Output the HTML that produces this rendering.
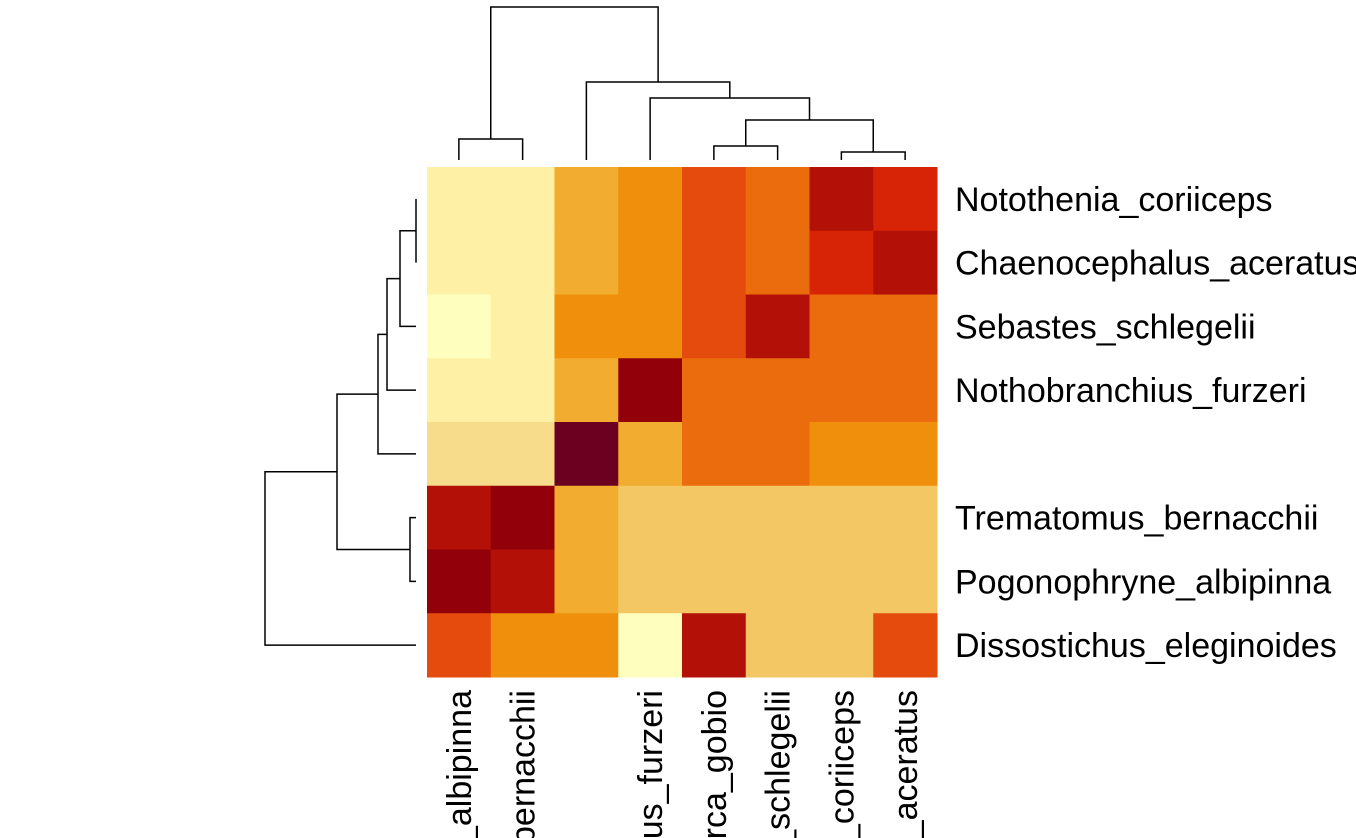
<!DOCTYPE html>
<html><head><meta charset="utf-8"><style>
html,body{margin:0;padding:0;background:#fff;overflow:hidden}
svg{display:block}
text{font-family:"Liberation Sans",Arial,sans-serif;font-size:34px;fill:#000}
</style></head><body>
<svg id="chart" width="1356" height="838" viewBox="0 0 1356 838" xmlns="http://www.w3.org/2000/svg">
<g id="cells"></g>
<g id="rowlabels"></g>
<g id="collabels"></g>
<g id="rowdendro" stroke="#000" stroke-width="1.5" fill="none"></g>
<g id="coldendro" stroke="#000" stroke-width="1.5" fill="none"></g>
</svg>
<script>
const rowNames = ["Notothenia_coriiceps","Chaenocephalus_aceratus","Sebastes_schlegelii","Nothobranchius_furzeri","","Trematomus_bernacchii","Pogonophryne_albipinna","Dissostichus_eleginoides"];
const colNames = ["Pogonophryne_albipinna","Trematomus_bernacchii","","Nothobranchius_furzeri","Perca_gobio","Sebastes_schlegelii","Notothenia_coriiceps","Chaenocephalus_aceratus"];
const values = [
 [2,2,5,6,8,7,10,9],
 [2,2,5,6,8,7,9,10],
 [1,2,6,6,8,10,7,7],
 [2,2,5,11,7,7,7,7],
 [3,3,12,5,7,7,6,6],
 [10,11,5,4,4,4,4,4],
 [11,10,5,4,4,4,4,4],
 [8,6,6,1,10,4,4,8]
];
const palette = ["#FFFFFF","#FEFEBE","#FEF1A6","#F7DC8B","#F3C764","#F2AC30","#EF8F0C","#EB6C0C","#E44B0C","#D82406","#B31107","#920009","#6B0020"];
// dendrogram merges: [left, right, height]; leaves are 0..7, merged clusters 8..
const rowMerges = [[0,1,416],[8,2,400],[9,3,387],[10,4,378],[5,6,410],[11,12,337],[13,7,265]];
const colMerges = [[0,1,139],[4,5,146],[6,7,152],[9,10,120],[3,11,98],[2,12,82],[8,13,7]];

const NS="http://www.w3.org/2000/svg";
const x0=427,y0=167,W=510,H=510;
const cw=W/colNames.length, ch=H/rowNames.length;
const xc=i=>x0+cw*(i+0.5), yc=i=>y0+ch*(i+0.5);
const cells=document.getElementById('cells');
values.forEach((row,r)=>row.forEach((v,c)=>{
  const e=document.createElementNS(NS,'rect');
  e.setAttribute('x',x0+c*cw);e.setAttribute('y',y0+r*ch);
  e.setAttribute('width',cw+0.5);e.setAttribute('height',ch+0.5);
  e.setAttribute('fill',palette[v]);
  
  
  cells.appendChild(e);
}));
const rl=document.getElementById('rowlabels');
rowNames.forEach((n,r)=>{
  const t=document.createElementNS(NS,'text');
  t.setAttribute('x',955);t.setAttribute('y',yc(r)+12);
  t.textContent=n;
  
  
  rl.appendChild(t);
});
const cl=document.getElementById('collabels');
colNames.forEach((n,c)=>{
  const t=document.createElementNS(NS,'text');
  const x=xc(c)+12,y=690;
  t.setAttribute('x',x);t.setAttribute('y',y);
  t.setAttribute('text-anchor','end');
  t.setAttribute('transform','rotate(-90 '+x+' '+y+')');
  t.textContent=n;
  
  
  cl.appendChild(t);
});
function dendro(g,merges,n,pos,leafH,vertical){
  const P=[],Hh=[];
  for(let i=0;i<n;i++){P.push(pos(i));Hh.push(leafH);}
  merges.forEach(([a,b,h])=>{
    let d;
    if(vertical) d=`M${P[a]} ${Hh[a]}V${h}H${P[b]}V${Hh[b]}`;
    else d=`M${Hh[a]} ${P[a]}H${h}V${P[b]}H${Hh[b]}`;
    const p=document.createElementNS(NS,'path');
    p.setAttribute('d',d);
    
    
    g.appendChild(p);
    P.push((P[a]+P[b])/2);Hh.push(h);
  });
}
dendro(document.getElementById('rowdendro'),rowMerges,8,yc,416,false);
dendro(document.getElementById('coldendro'),colMerges,8,xc,160,true);
</script>
</body></html>
